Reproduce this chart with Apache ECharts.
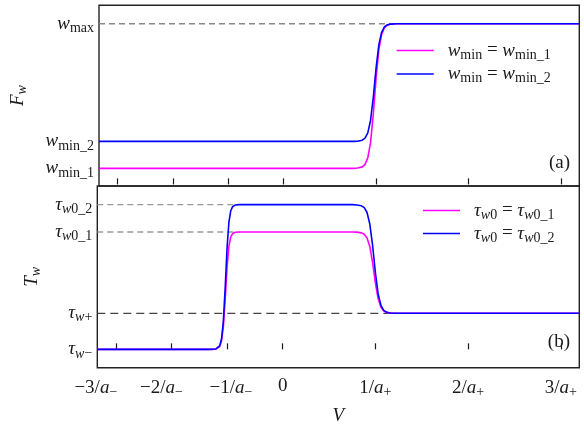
<!DOCTYPE html>
<html>
<head>
<meta charset="utf-8">
<script src="https://cdn.jsdelivr.net/npm/echarts@6/dist/echarts.min.js"></script>
<style>html,body{margin:0;padding:0;background:#fff;}#c{width:584px;height:428px;}</style>
</head>
<body>
<div id="c"></div>
<script>
// ---- data ----
const xTickValues = [-1.8, -1.2, -0.6, 0, 1, 2, 3];
const xTickNums = ['−3', '−2', '−1', '0', '1', '2', '3'];
const xTickSubs = ['−', '−', '−', '', '+', '+', '+'];

const wTicks = [0.1, 0.268, 1.0];
const wTickSubs = ['min_1', 'min_2', 'max'];

const tauTicks = [0, 0.249, 0.811, 1.0];
const tauTickSubsItalic = ['w', 'w', 'w', 'w'];
const tauTickSubsUpright = ['−', '+', '0_1', '0_2'];

// F_w curves
const fwV = [-2.0, 0.75, 0.80, 0.85, 0.88, 0.91, 0.94, 0.97, 1.00, 1.03, 1.06, 1.09, 1.12, 1.16, 1.22, 3.2];
const fwMin1 = [0.1, 0.1, 0.102, 0.109, 0.125, 0.165, 0.260, 0.438, 0.663, 0.840, 0.934, 0.976, 0.991, 0.998, 1.0, 1.0];
const fwMin2 = [0.268, 0.268, 0.269, 0.275, 0.288, 0.321, 0.398, 0.543, 0.725, 0.870, 0.947, 0.980, 0.993, 0.998, 1.0, 1.0];

// T_w curves
const twV = [-2.0, -0.80, -0.75, -0.72, -0.70, -0.68, -0.66, -0.64, -0.62, -0.60, -0.58, -0.56, -0.54, -0.51, -0.47,
             0.75, 0.80, 0.85, 0.88, 0.91, 0.94, 0.97, 1.00, 1.03, 1.06, 1.09, 1.12, 1.16, 1.22, 3.2];
const tw01 = [0, 0, 0, 0.002, 0.006, 0.019, 0.058, 0.157, 0.348, 0.569, 0.714, 0.777, 0.800, 0.809, 0.811,
              0.811, 0.810, 0.805, 0.796, 0.770, 0.711, 0.600, 0.460, 0.349, 0.290, 0.264, 0.255, 0.250, 0.249, 0.249];
const tw02 = [0, 0, 0.0005, 0.0025, 0.008, 0.024, 0.071, 0.194, 0.429, 0.702, 0.880, 0.958, 0.986, 0.9975, 1.0,
              1.0, 0.998, 0.992, 0.979, 0.946, 0.866, 0.718, 0.531, 0.383, 0.304, 0.269, 0.257, 0.251, 0.249, 0.249];

// dashed reference lines [x, y] endpoints
const refWmax = [[-2.0, 1.0], [1.16, 1.0]];
const refTau02 = [[-2.0, 1.0], [-0.50, 1.0]];
const refTau01 = [[-2.0, 0.811], [-0.48, 0.811]];
const refTauPlus = [[-2.0, 0.249], [1.16, 0.249]];

// ---- chart ----
const zip = (xs, ys) => xs.map((x, i) => [x, ys[i]]);
const FONT = 'Liberation Serif';
const C = '#1a1a1a';
const rich = {
  n: { fontFamily: FONT, fontSize: 19, color: C },
  i: { fontFamily: FONT, fontSize: 19, fontStyle: 'italic', color: C },
  s: { fontFamily: FONT, fontSize: 14, color: C, padding: [9, 0, 0, 0] },
  si: { fontFamily: FONT, fontSize: 14, fontStyle: 'italic', color: C, padding: [9, 0, 0, 0] },
  pl40: { width: 40 }, pl20: { width: 20 }, pr8: { width: 8 }
};
const idx = (arr, v) => arr.findIndex(a => Math.abs(a - v) < 1e-6);

const xBase = {
  type: 'value', min: -2.0, max: 3.2,
  axisLine: { show: false },
  splitLine: { show: false },
  axisTick: { show: true, inside: true, length: 6, customValues: xTickValues, lineStyle: { color: C, width: 1.2 } }
};
const yBase = {
  type: 'value',
  axisLine: { show: false },
  splitLine: { show: false },
  axisTick: { show: false }
};
const xPad = ['{pl40| }', '{pl20| }', '', '', '', '', ''];
const xPadL = ['', '', '{pr8| }', '', '', '', ''];

const chart = echarts.init(document.getElementById('c'), null, { renderer: 'canvas' });
chart.setOption({
  animation: false,
  backgroundColor: '#fff',
  grid: [
    { left: 97.3, right: 4.7, top: 5.3, height: 180.7, show: true, borderColor: '#222', borderWidth: 1.4, backgroundColor: 'transparent' },
    { left: 97.3, right: 4.7, top: 186, height: 181.7, show: true, borderColor: '#222', borderWidth: 1.4, backgroundColor: 'transparent' }
  ],
  xAxis: [
    Object.assign({}, xBase, { gridIndex: 0, axisLabel: { show: false } }),
    Object.assign({}, xBase, {
      gridIndex: 1,
      name: '{i|V}', nameLocation: 'middle', nameGap: 39,
      nameTextStyle: { rich: rich },
      axisLabel: {
        show: true, margin: 9, customValues: xTickValues,
        formatter: v => {
          const k = idx(xTickValues, v);
          if (k < 0) return '';
          if (xTickSubs[k] === '') return '{n|' + xTickNums[k] + '}';
          return xPadL[k] + '{n|' + xTickNums[k] + '/}{i|a}{s|' + xTickSubs[k] + '}' + xPad[k];
        },
        rich: rich
      }
    })
  ],
  yAxis: [
    Object.assign({}, yBase, {
      gridIndex: 0, min: -0.01, max: 1.115,
      name: '{i|F}{si|w}', nameLocation: 'middle', nameGap: 70, nameTextStyle: { rich: rich },
      axisLabel: {
        show: true, margin: 5, customValues: wTicks,
        formatter: v => { const k = idx(wTicks, v); return k < 0 ? '' : '{i|w}{s|' + wTickSubs[k] + '}'; },
        rich: rich
      }
    }),
    Object.assign({}, yBase, {
      gridIndex: 1, min: -0.127, max: 1.129,
      name: '{i|T}{si|w}', nameLocation: 'middle', nameGap: 54, nameTextStyle: { rich: rich },
      axisLabel: {
        show: true, margin: 5, customValues: tauTicks,
        formatter: v => { const k = idx(tauTicks, v); return k < 0 ? '' : '{i|τ}{si|' + tauTickSubsItalic[k] + '}{s|' + tauTickSubsUpright[k] + '}'; },
        rich: rich
      }
    })
  ],
  legend: [
    {
      data: ['wmin1', 'wmin2'], orient: 'vertical', left: 396.7, top: 41, padding: 0,
      icon: 'rect', itemWidth: 37, itemHeight: 1.6, itemGap: 2.5,
      formatter: n => n === 'wmin1' ? '{i|w}{s|min}{n| = }{i|w}{s|min_1}' : '{i|w}{s|min}{n| = }{i|w}{s|min_2}',
      textStyle: { rich: rich, padding: [0, 0, 0, 9] }
    },
    {
      data: ['tau1', 'tau2'], orient: 'vertical', left: 423, top: 201, padding: 0,
      icon: 'rect', itemWidth: 37, itemHeight: 1.6, itemGap: 2,
      formatter: n => n === 'tau1' ? '{i|τ}{si|w}{s|0}{n| = }{i|τ}{si|w}{s|0_1}' : '{i|τ}{si|w}{s|0}{n| = }{i|τ}{si|w}{s|0_2}',
      textStyle: { rich: rich, padding: [0, 0, 0, 9] }
    }
  ],
  title: [
    { text: '(a)', right: 14, top: 154, padding: 0, textStyle: { fontFamily: FONT, fontSize: 19, fontWeight: 'normal', color: C } },
    { text: '(b)', right: 14, top: 333, padding: 0, textStyle: { fontFamily: FONT, fontSize: 19, fontWeight: 'normal', color: C } }
  ],
  series: [
    { type: 'line', xAxisIndex: 0, yAxisIndex: 0, data: refWmax, symbol: 'none', silent: true,
      lineStyle: { color: '#888', width: 1.3, type: [6, 4] } },
    { type: 'line', xAxisIndex: 1, yAxisIndex: 1, data: refTau02, symbol: 'none', silent: true,
      lineStyle: { color: '#999', width: 1.3, type: [6, 4] } },
    { type: 'line', xAxisIndex: 1, yAxisIndex: 1, data: refTau01, symbol: 'none', silent: true,
      lineStyle: { color: '#999', width: 1.3, type: [6, 4] } },
    { type: 'line', xAxisIndex: 1, yAxisIndex: 1, data: refTauPlus, symbol: 'none', silent: true,
      lineStyle: { color: '#444', width: 1.2, type: [8, 5] } },
    { name: 'wmin1', type: 'line', xAxisIndex: 0, yAxisIndex: 0, data: zip(fwV, fwMin1), symbol: 'none',
      color: '#ff00ff', lineStyle: { color: '#ff00ff', width: 1.6 } },
    { name: 'wmin2', type: 'line', xAxisIndex: 0, yAxisIndex: 0, data: zip(fwV, fwMin2), symbol: 'none',
      color: '#0000ff', lineStyle: { color: '#0000ff', width: 1.6 } },
    { name: 'tau1', type: 'line', xAxisIndex: 1, yAxisIndex: 1, data: zip(twV, tw01), symbol: 'none',
      color: '#ff00ff', lineStyle: { color: '#ff00ff', width: 1.6 } },
    { name: 'tau2', type: 'line', xAxisIndex: 1, yAxisIndex: 1, data: zip(twV, tw02), symbol: 'none',
      color: '#0000ff', lineStyle: { color: '#0000ff', width: 1.6 } }
  ]
});
</script>
</body>
</html>
